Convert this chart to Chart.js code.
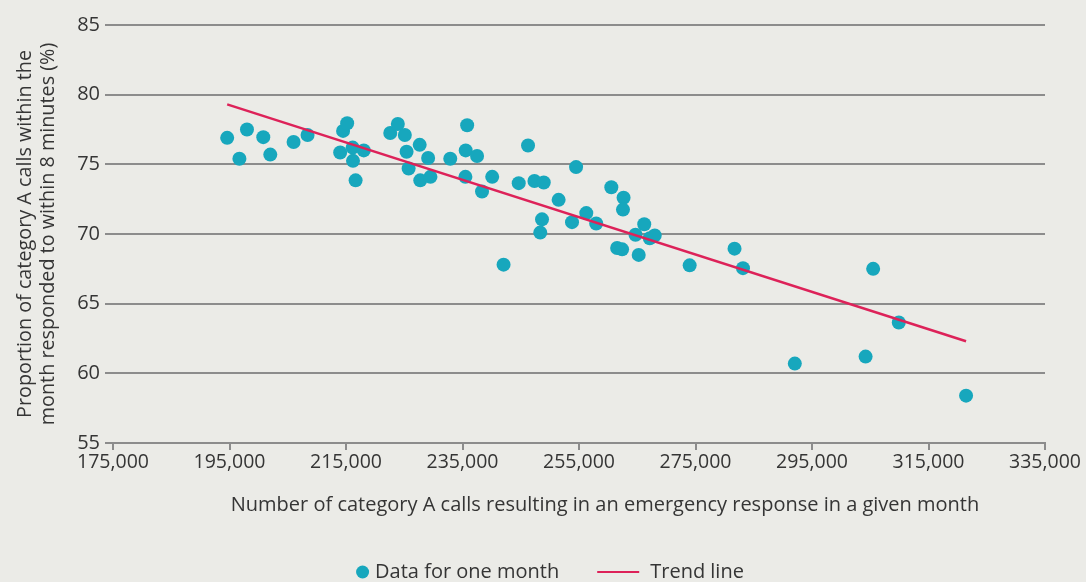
<!DOCTYPE html>
<html><head><meta charset="utf-8">
<script src="https://cdn.jsdelivr.net/npm/chart.js@4.4.0/dist/chart.umd.min.js"></script>
<style>html,body{margin:0;padding:0;background:#EBEBE7;overflow:hidden}#wrap{width:1086px;height:582px}</style>
</head><body><div id="wrap"><canvas id="c" width="1086" height="582"></canvas></div>
<script>
// ---- data ----
const xTickValues = [175000,195000,215000,235000,255000,275000,295000,315000,335000];
const yTickValues = [55,60,65,70,75,80,85];
const callsPerMonth = [
 194600,196700,198000,200800,202000,206000,208400,214000,214500,215200,
 216150,216200,216650,218050,222600,223900,225100,225400,225750,227650,
 227750,229100,229500,232900,235800,235550,235500,237500,238350,240100,
 242050,244650,246250,247350,248950,248650,248350,251500,253800,254500,
 256250,257950,260550,262650,262550,261550,262400,264700,266200,265250,
 267150,268000,274000,281700,283150,292050,304200,305500,309900,321450];
const pctWithin8Min = [
 76.9,75.4,77.5,76.95,75.7,76.6,77.1,75.85,77.4,77.95,
 76.2,75.25,73.85,76.0,77.25,77.9,77.1,75.9,74.7,76.4,
 73.85,75.45,74.1,75.4,77.8,76.0,74.1,75.6,73.05,74.1,
 67.8,73.65,76.35,73.8,73.7,71.05,70.1,72.45,70.85,74.8,
 71.5,70.75,73.35,72.6,71.75,69.0,68.9,69.95,70.7,68.5,
 69.7,69.9,67.75,68.95,67.55,60.7,61.2,67.5,63.65,58.4];
const trendX = [194600, 321450];
const trendY = [79.3, 62.3];
const seriesNames = ['Data for one month', 'Trend line'];
const xTitle = 'Number of category A calls resulting in an emergency response in a given month';
const yTitle = ['Proportion of category A calls within the', 'month responded to within 8 minutes (%)'];

// ---- styles ----
const FONT = '"Open Sans", "Liberation Sans", sans-serif';
const TEXT = '#353535';
const GRID = '#8c8c8c';
const DOT = '#17A7BD';
const LINE = '#DD2259';

const pts = callsPerMonth.map((x,i)=>({x, y:pctWithin8Min[i]}));
const trend = trendX.map((x,i)=>({x, y:trendY[i]}));

const textPlugin = {
  id: 'customTexts',
  afterDraw(chart){
    const ctx = chart.ctx;
    ctx.save();
    ctx.font = '20px ' + FONT;
    ctx.textBaseline = 'middle';
    // x-axis title (offset right as in the original)
    ctx.fillStyle = TEXT;
    ctx.textAlign = 'center';
    ctx.fillText(xTitle, 605, 505);
    ctx.textAlign = 'left';
    // legend
    const y = 572;
    const w0 = ctx.measureText(seriesNames[0]).width;
    const w1 = ctx.measureText(seriesNames[1]).width;
    const total = 13 + 6 + w0 + 38 + 42 + 11 + w1;
    let x = 550 - total/2;
    ctx.beginPath(); ctx.fillStyle = DOT; ctx.arc(x+6.5, y, 6.5, 0, Math.PI*2); ctx.fill();
    x += 19;
    ctx.fillStyle = TEXT; ctx.fillText(seriesNames[0], x, y);
    x += w0 + 38;
    ctx.strokeStyle = LINE; ctx.lineWidth = 2; ctx.beginPath(); ctx.moveTo(x, y); ctx.lineTo(x+42, y); ctx.stroke();
    x += 53;
    ctx.fillStyle = TEXT; ctx.fillText(seriesNames[1], x, y);
    ctx.restore();
  }
};

function build(){
  new Chart(document.getElementById('c'), {
    type: 'scatter',
    data: { datasets: [
      { label: seriesNames[0], data: pts, backgroundColor: DOT, borderWidth: 0, pointRadius: 7, pointHoverRadius: 7, order: 1 },
      { label: seriesNames[1], data: trend, type: 'line', showLine: true, borderColor: LINE, borderWidth: 2.5, pointRadius: 0, fill: false, order: 0 }
    ]},
    options: {
      responsive: false, animation: false, devicePixelRatio: 1,
      events: [],
      layout: { padding: { top: 25, right: 41, bottom: 59, left: 0 } },
      plugins: { legend: { display: false }, tooltip: { enabled: false } },
      scales: {
        x: {
          type: 'linear', min: 175000, max: 335000,
          afterBuildTicks: s => { s.ticks = xTickValues.map(v=>({value:v})); },
          afterFit: s => { s.height = 80; },
          grid: { drawOnChartArea: false, drawTicks: true, tickLength: 7, color: GRID, lineWidth: 2 },
          border: { display: true, color: GRID, width: 2 },
          ticks: { color: TEXT, font: { family: FONT, size: 19.5 }, padding: 1, maxRotation: 0, autoSkip: false,
                   callback: v => v.toLocaleString('en-US') },
          title: { display: false, text: xTitle }
        },
        y: {
          type: 'linear', min: 55, max: 85,
          afterBuildTicks: s => { s.ticks = yTickValues.map(v=>({value:v})); },
          afterFit: s => { s.width = 113; },
          grid: { drawTicks: true, tickLength: 8, color: GRID, lineWidth: 2 },
          border: { display: false },
          ticks: { color: TEXT, font: { family: FONT, size: 20 }, padding: 5 },
          title: { display: true, text: yTitle, color: TEXT, font: { family: FONT, size: 19.8, lineHeight: 1.15 }, padding: { top: 14, bottom: 0 } }
        }
      }
    },
    plugins: [textPlugin]
  });
}
if (document.fonts && document.fonts.load) {
  Promise.all([document.fonts.load('20px "Open Sans"')]).then(build, build);
} else build();
</script>
</body></html>
